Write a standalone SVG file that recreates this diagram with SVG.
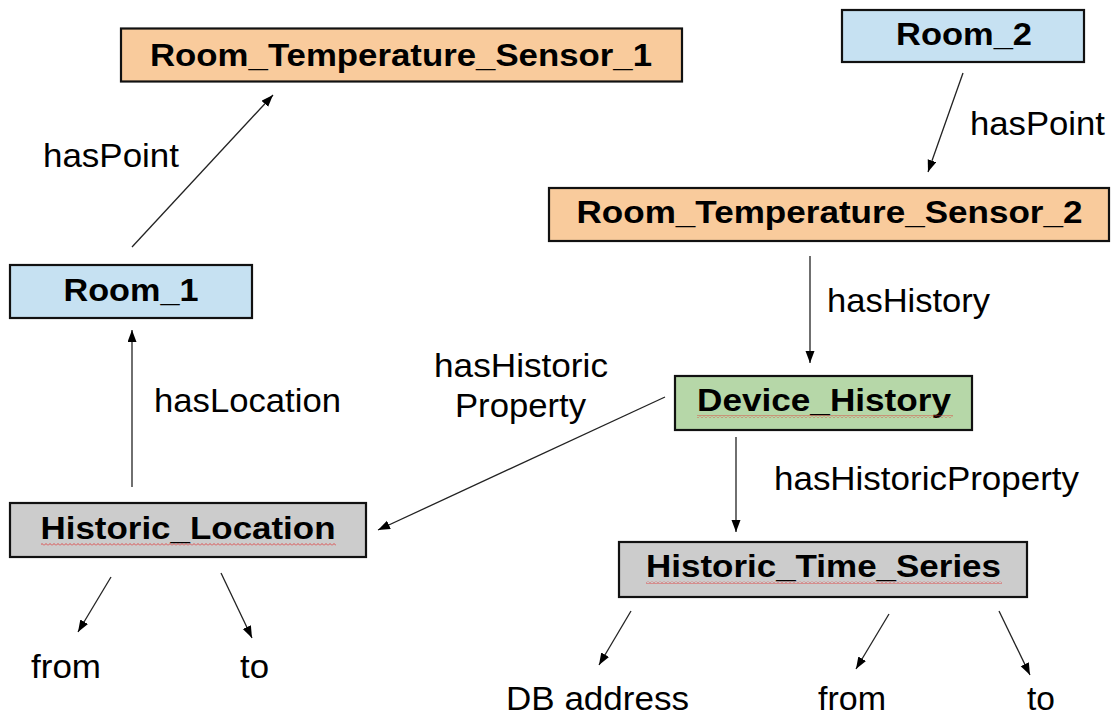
<svg xmlns="http://www.w3.org/2000/svg" width="1113" height="717" viewBox="0 0 1113 717">
<style>
.box{stroke:#111;stroke-width:2.2}
.orange{fill:#F9CB9C}
.blue{fill:#C6E1F2}
.green{fill:#B6D7A8}
.gray{fill:#CCCCCC}
.nt{font-family:"Liberation Sans",Arial,sans-serif;font-weight:bold;font-size:32px;fill:#000;text-anchor:middle}
.lb{font-family:"Liberation Sans",Arial,sans-serif;font-size:33px;fill:#000}
.edge{stroke:#222;stroke-width:1.3;fill:none;marker-end:url(#arrow)}
.sq{fill:url(#squiggle)}
</style>
<defs>
<marker id="arrow" markerUnits="userSpaceOnUse" markerWidth="14" markerHeight="10" refX="12" refY="4.5" orient="auto">
<path d="M0,0 L12,4.5 L0,9 z" fill="#000"/>
</marker>
<pattern id="squiggle" patternUnits="userSpaceOnUse" width="4" height="3">
<path d="M0,2.5 L2,0.5 L4,2.5" stroke="#E03030" stroke-width="0.8" fill="none"/>
</pattern>
</defs>
<rect width="1113" height="717" fill="#fff"/>
<g id="connectors">
<line class="edge" x1="132" y1="247" x2="273" y2="95"/>
<line class="edge" x1="132" y1="487" x2="132" y2="330"/>
<line class="edge" x1="963" y1="73" x2="928" y2="172"/>
<line class="edge" x1="810" y1="256" x2="810" y2="363"/>
<line class="edge" x1="665" y1="397" x2="378" y2="530"/>
<line class="edge" x1="736" y1="437" x2="736" y2="532"/>
<line class="edge" x1="111" y1="577" x2="78" y2="632"/>
<line class="edge" x1="221" y1="573" x2="252" y2="638"/>
<line class="edge" x1="631" y1="611" x2="599" y2="665"/>
<line class="edge" x1="889" y1="614" x2="856" y2="669"/>
<line class="edge" x1="999" y1="611" x2="1030" y2="675"/>
<text class="lb" x="43" y="167" textLength="136" lengthAdjust="spacingAndGlyphs">hasPoint</text>
<text class="lb" x="970" y="135" textLength="135" lengthAdjust="spacingAndGlyphs">hasPoint</text>
<text class="lb" x="827" y="312" textLength="163" lengthAdjust="spacingAndGlyphs">hasHistory</text>
<text class="lb" x="154" y="412" textLength="187" lengthAdjust="spacingAndGlyphs">hasLocation</text>
<text class="lb" x="434" y="377" textLength="174" lengthAdjust="spacingAndGlyphs">hasHistoric</text>
<text class="lb" x="455" y="417" textLength="131" lengthAdjust="spacingAndGlyphs">Property</text>
<text class="lb" x="774" y="490" textLength="305" lengthAdjust="spacingAndGlyphs">hasHistoricProperty</text>
<text class="lb" x="31" y="678" textLength="70" lengthAdjust="spacingAndGlyphs">from</text>
<text class="lb" x="240" y="678" textLength="29" lengthAdjust="spacingAndGlyphs">to</text>
<text class="lb" x="506" y="710" textLength="183" lengthAdjust="spacingAndGlyphs">DB address</text>
<text class="lb" x="818" y="710" textLength="68" lengthAdjust="spacingAndGlyphs">from</text>
<text class="lb" x="1027" y="710" textLength="28" lengthAdjust="spacingAndGlyphs">to</text>
</g>
<g id="room_temperature_sensor_1">
<rect class="box orange" x="121" y="28.5" width="561" height="53"/>
<text class="nt" x="401" y="66" textLength="502" lengthAdjust="spacingAndGlyphs">Room_Temperature_Sensor_1</text>
</g>
<g id="room_1">
<rect class="box blue" x="10" y="265" width="242" height="53"/>
<text class="nt" x="131" y="301" textLength="135" lengthAdjust="spacingAndGlyphs">Room_1</text>
</g>
<g id="room_2">
<rect class="box blue" x="842" y="10" width="242" height="52"/>
<text class="nt" x="964" y="45" textLength="136" lengthAdjust="spacingAndGlyphs">Room_2</text>
</g>
<g id="room_temperature_sensor_2">
<rect class="box orange" x="549" y="188" width="560" height="53"/>
<text class="nt" x="829.5" y="223" textLength="506" lengthAdjust="spacingAndGlyphs">Room_Temperature_Sensor_2</text>
</g>
<g id="device_history">
<rect class="box green" x="675" y="376" width="297" height="54"/>
<text class="nt" x="824" y="411" textLength="254" lengthAdjust="spacingAndGlyphs">Device_History</text>
<rect class="sq" x="697" y="415" width="256" height="3"/>
</g>
<g id="historic_location">
<rect class="box gray" x="10" y="503" width="356" height="54"/>
<text class="nt" x="188" y="539" textLength="295" lengthAdjust="spacingAndGlyphs">Historic_Location</text>
<rect class="sq" x="41" y="543" width="295" height="3"/>
</g>
<g id="historic_time_series">
<rect class="box gray" x="619" y="542" width="408" height="55"/>
<text class="nt" x="823.5" y="577" textLength="355" lengthAdjust="spacingAndGlyphs">Historic_Time_Series</text>
<rect class="sq" x="646" y="581" width="356" height="3"/>
</g>
</svg>
